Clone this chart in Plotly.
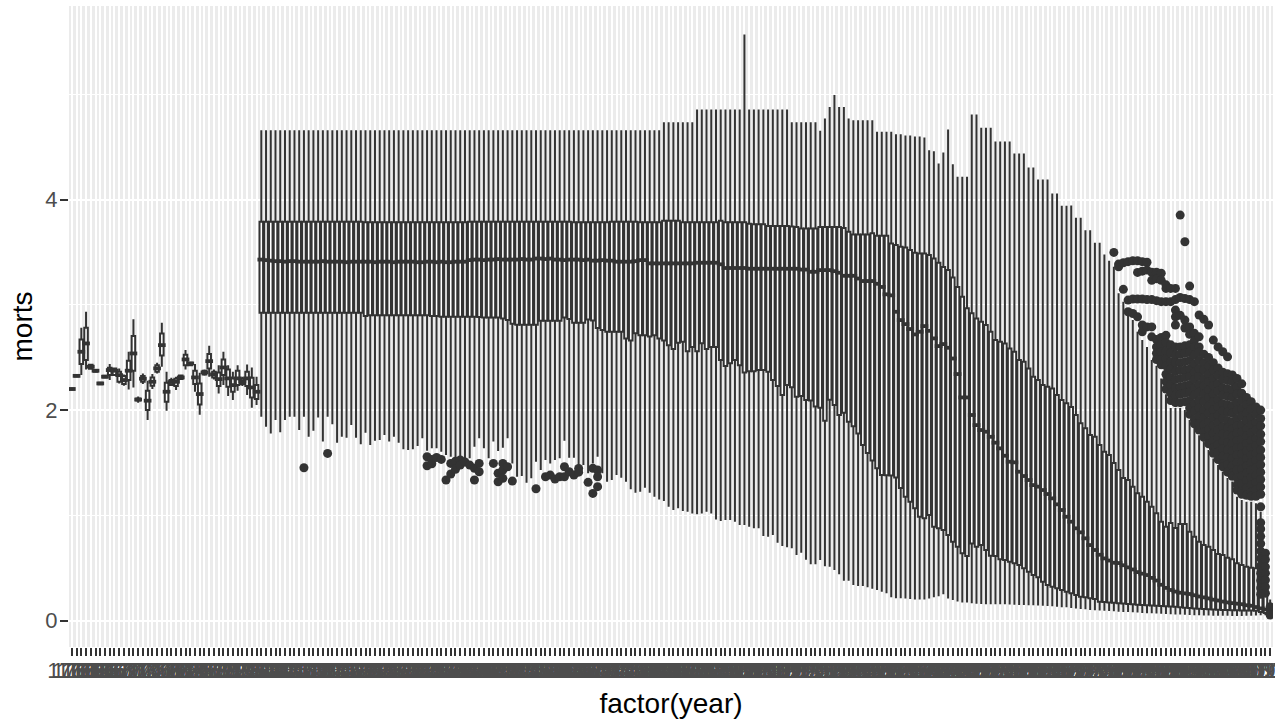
import plotly.graph_objects as go

years = [str(y) for y in range(1760, 2014)]

lower_fence = [
 2.19,2.315,2.332,2.386,2.386,2.36,2.24,2.30,2.285,2.323,
 2.253,2.231,2.196,2.215,2.07,2.247,1.905,2.199,2.348,2.412,
 1.994,2.228,2.19,2.285,2.386,2.418,2.174,1.956,2.326,2.317,
 2.291,2.158,2.237,2.133,2.095,2.184,2.228,2.142,2.022,2.047,
 1.936,1.842,1.778,1.905,1.788,1.905,1.936,1.936,1.81,1.936,
 1.746,1.804,1.93,1.70,1.936,1.864,1.69,1.746,1.737,1.858,
 1.737,1.674,1.785,1.667,1.708,1.715,1.763,1.70,1.746,1.69,
 1.627,1.62,1.627,1.658,1.731,1.613,1.636,1.636,1.604,1.572,
 1.556,1.541,1.556,1.541,1.541,1.651,1.731,1.636,1.541,1.70,
 1.61,1.641,1.731,1.493,1.366,1.373,1.31,1.351,1.509,1.43,
 1.525,1.493,1.525,1.541,1.708,1.547,1.547,1.461,1.477,1.399,
 1.493,1.556,1.40,1.319,1.335,1.382,1.357,1.319,1.247,1.214,
 1.224,1.262,1.214,1.176,1.151,1.135,1.081,1.05,1.066,1.04,
 1.034,1.018,1.009,1.018,1.034,1.018,0.961,0.945,0.955,0.955,
 0.939,0.907,0.907,0.891,0.876,0.876,0.803,0.796,0.812,0.739,
 0.708,0.695,0.686,0.622,0.644,0.578,0.534,0.534,0.575,0.515,
 0.511,0.48,0.439,0.378,0.378,0.337,0.328,0.328,0.315,0.302,
 0.29,0.274,0.258,0.22,0.211,0.211,0.21,0.205,0.20,0.20,
 0.20,0.21,0.22,0.23,0.25,0.21,0.195,0.18,0.17,0.17,
 0.165,0.16,0.158,0.155,0.155,0.155,0.155,0.155,0.152,0.15,
 0.148,0.147,0.146,0.145,0.143,0.14,0.138,0.135,0.13,0.127,
 0.125,0.12,0.115,0.11,0.106,0.10,0.098,0.095,0.092,0.09,
 0.087,0.084,0.082,0.08,0.078,0.075,0.072,0.07,0.068,0.066,
 0.064,0.062,0.06,0.058,0.056,0.054,0.052,0.05,0.05,0.048,
 0.047,0.046,0.045,0.044,0.044,0.043,0.043,0.043,0.044,0.045,
 0.048,0.05,0.05,0.05]

q1_values = [
 2.195,2.32,2.437,2.475,2.392,2.365,2.245,2.31,2.332,2.332,
 2.269,2.247,2.285,2.374,2.09,2.269,2.0,2.231,2.364,2.519,
 2.079,2.237,2.228,2.294,2.427,2.427,2.247,2.054,2.339,2.396,
 2.31,2.228,2.332,2.222,2.174,2.237,2.247,2.228,2.12,2.104,
 2.925,2.925,2.925,2.925,2.925,2.925,2.925,2.925,2.925,2.925,
 2.925,2.925,2.925,2.925,2.925,2.925,2.925,2.925,2.925,2.925,
 2.925,2.925,2.895,2.90,2.90,2.90,2.90,2.90,2.90,2.90,
 2.90,2.90,2.90,2.90,2.90,2.90,2.895,2.895,2.887,2.887,
 2.887,2.887,2.887,2.887,2.887,2.887,2.885,2.88,2.88,2.88,
 2.88,2.87,2.855,2.82,2.81,2.81,2.81,2.81,2.81,2.848,
 2.848,2.848,2.848,2.848,2.88,2.865,2.83,2.83,2.83,2.86,
 2.85,2.78,2.76,2.744,2.744,2.744,2.744,2.68,2.66,2.73,
 2.712,2.712,2.70,2.71,2.68,2.66,2.617,2.58,2.64,2.65,
 2.56,2.60,2.56,2.635,2.58,2.60,2.60,2.475,2.418,2.444,
 2.475,2.427,2.358,2.37,2.37,2.38,2.38,2.364,2.285,2.228,
 2.143,2.238,2.216,2.127,2.133,2.095,2.09,2.035,2.022,1.898,
 2.097,2.048,1.953,1.974,1.889,1.845,1.778,1.667,1.593,1.52,
 1.446,1.382,1.38,1.378,1.36,1.26,1.176,1.129,1.066,0.986,
 0.971,1.002,0.891,0.876,0.86,0.812,0.749,0.701,0.638,0.613,
 0.733,0.701,0.717,0.67,0.616,0.613,0.581,0.575,0.559,0.543,
 0.528,0.496,0.464,0.432,0.41,0.369,0.337,0.321,0.306,0.29,
 0.274,0.258,0.242,0.226,0.22,0.211,0.204,0.179,0.176,0.172,
 0.168,0.165,0.162,0.158,0.155,0.15,0.147,0.145,0.143,0.14,
 0.138,0.135,0.132,0.13,0.127,0.122,0.118,0.115,0.112,0.11,
 0.107,0.104,0.102,0.10,0.099,0.098,0.097,0.096,0.095,0.094,
 0.092,0.08,0.072,0.065]

median_values = [
 2.2,2.325,2.554,2.633,2.412,2.374,2.253,2.317,2.38,2.374,
 2.332,2.285,2.374,2.538,2.10,2.298,2.089,2.269,2.396,2.617,
 2.174,2.266,2.269,2.31,2.481,2.443,2.31,2.152,2.358,2.465,
 2.339,2.294,2.405,2.301,2.237,2.301,2.275,2.301,2.215,2.174,
 3.43,3.425,3.42,3.415,3.415,3.41,3.415,3.415,3.41,3.41,
 3.41,3.41,3.41,3.415,3.41,3.41,3.41,3.41,3.405,3.41,
 3.41,3.41,3.41,3.41,3.405,3.41,3.41,3.41,3.405,3.41,
 3.41,3.41,3.41,3.405,3.405,3.41,3.41,3.405,3.41,3.405,
 3.405,3.41,3.41,3.41,3.425,3.43,3.43,3.425,3.43,3.43,
 3.435,3.43,3.43,3.43,3.43,3.435,3.43,3.43,3.44,3.44,
 3.435,3.44,3.43,3.43,3.425,3.43,3.43,3.43,3.425,3.43,
 3.42,3.42,3.425,3.42,3.42,3.41,3.41,3.41,3.41,3.415,
 3.425,3.425,3.394,3.394,3.394,3.394,3.394,3.394,3.394,3.394,
 3.394,3.394,3.40,3.40,3.40,3.40,3.40,3.385,3.35,3.35,
 3.35,3.35,3.35,3.343,3.343,3.343,3.343,3.343,3.343,3.343,
 3.343,3.343,3.343,3.343,3.335,3.335,3.314,3.314,3.33,3.33,
 3.33,3.32,3.305,3.276,3.276,3.276,3.25,3.226,3.226,3.226,
 3.20,3.17,3.10,3.09,2.934,2.855,2.817,2.77,2.719,2.744,
 2.798,2.753,2.681,2.608,2.627,2.592,2.49,2.342,2.12,2.12,
 1.953,1.857,1.81,1.794,1.746,1.69,1.636,1.566,1.509,1.503,
 1.414,1.373,1.335,1.287,1.272,1.24,1.202,1.161,1.104,1.05,
 0.986,0.939,0.876,0.838,0.781,0.717,0.67,0.625,0.59,0.57,
 0.549,0.546,0.525,0.505,0.485,0.46,0.445,0.432,0.405,0.38,
 0.34,0.31,0.29,0.275,0.264,0.258,0.252,0.24,0.228,0.22,
 0.21,0.198,0.19,0.18,0.172,0.165,0.16,0.155,0.145,0.14,
 0.128,0.115,0.105,0.09]

q3_values = [
 2.205,2.33,2.671,2.782,2.43,2.38,2.26,2.325,2.402,2.396,
 2.364,2.323,2.469,2.703,2.11,2.323,2.184,2.31,2.427,2.728,
 2.26,2.285,2.298,2.329,2.526,2.45,2.374,2.253,2.374,2.532,
 2.364,2.358,2.481,2.386,2.301,2.374,2.301,2.364,2.307,2.237,
 3.79,3.79,3.79,3.79,3.79,3.79,3.79,3.79,3.79,3.79,
 3.79,3.79,3.79,3.79,3.79,3.79,3.79,3.79,3.79,3.79,
 3.79,3.79,3.785,3.785,3.785,3.785,3.785,3.785,3.785,3.785,
 3.785,3.785,3.785,3.785,3.785,3.785,3.785,3.785,3.785,3.785,
 3.785,3.785,3.785,3.785,3.79,3.79,3.79,3.79,3.79,3.79,
 3.79,3.79,3.79,3.79,3.79,3.79,3.79,3.79,3.79,3.79,
 3.79,3.79,3.79,3.79,3.79,3.79,3.785,3.785,3.785,3.785,
 3.785,3.785,3.785,3.785,3.79,3.79,3.79,3.79,3.79,3.79,
 3.785,3.785,3.785,3.785,3.785,3.80,3.80,3.80,3.80,3.785,
 3.785,3.785,3.785,3.785,3.785,3.785,3.785,3.80,3.785,3.785,
 3.785,3.785,3.785,3.77,3.767,3.767,3.767,3.75,3.75,3.75,
 3.75,3.75,3.745,3.74,3.726,3.726,3.726,3.726,3.74,3.74,
 3.74,3.74,3.74,3.73,3.694,3.669,3.669,3.669,3.669,3.68,
 3.656,3.656,3.656,3.584,3.568,3.552,3.545,3.52,3.495,3.489,
 3.489,3.473,3.44,3.40,3.36,3.33,3.26,3.17,3.077,2.967,
 2.92,2.87,2.84,2.808,2.744,2.665,2.649,2.633,2.586,2.554,
 2.475,2.46,2.396,2.317,2.285,2.238,2.222,2.206,2.143,2.095,
 2.064,2.03,1.953,1.874,1.826,1.763,1.746,1.667,1.604,1.572,
 1.496,1.43,1.354,1.335,1.272,1.21,1.176,1.129,1.081,1.02,
 0.939,0.891,0.926,0.879,0.917,0.917,0.844,0.796,0.749,0.717,
 0.701,0.67,0.632,0.622,0.597,0.581,0.543,0.527,0.511,0.502,
 0.496,0.45,0.35,0.14]

upper_fence = [
 2.21,2.335,2.782,2.934,2.44,2.39,2.27,2.335,2.437,2.405,
 2.396,2.339,2.554,2.864,2.13,2.348,2.279,2.342,2.45,2.83,
 2.364,2.307,2.317,2.339,2.57,2.456,2.437,2.355,2.386,2.611,
 2.386,2.427,2.554,2.427,2.364,2.427,2.317,2.434,2.405,2.317,
 4.66,4.66,4.66,4.66,4.66,4.66,4.66,4.66,4.66,4.66,
 4.66,4.66,4.66,4.66,4.66,4.66,4.66,4.66,4.66,4.66,
 4.66,4.66,4.66,4.66,4.66,4.66,4.66,4.66,4.66,4.66,
 4.66,4.66,4.66,4.66,4.66,4.66,4.66,4.66,4.66,4.66,
 4.66,4.66,4.66,4.66,4.66,4.66,4.66,4.66,4.66,4.66,
 4.66,4.66,4.66,4.66,4.66,4.66,4.66,4.66,4.66,4.66,
 4.66,4.66,4.66,4.66,4.66,4.66,4.66,4.66,4.66,4.66,
 4.66,4.66,4.66,4.66,4.66,4.66,4.66,4.66,4.66,4.66,
 4.66,4.66,4.66,4.66,4.66,4.736,4.736,4.736,4.736,4.736,
 4.736,4.736,4.857,4.857,4.857,4.857,4.857,4.857,4.857,4.857,
 4.857,4.857,5.57,4.857,4.857,4.857,4.857,4.857,4.857,4.857,
 4.857,4.857,4.736,4.736,4.736,4.736,4.736,4.736,4.655,4.77,
 4.88,4.993,4.88,4.88,4.77,4.755,4.755,4.755,4.755,4.755,
 4.645,4.645,4.645,4.645,4.62,4.62,4.61,4.61,4.60,4.60,
 4.59,4.47,4.46,4.344,4.448,4.667,4.337,4.217,4.217,4.217,
 4.81,4.81,4.683,4.683,4.683,4.553,4.553,4.553,4.553,4.439,
 4.439,4.439,4.306,4.306,4.192,4.192,4.192,4.059,4.059,3.941,
 3.941,3.945,3.827,3.827,3.71,3.71,3.59,3.59,3.479,3.42,
 3.362,3.11,3.03,2.92,2.855,2.745,2.665,2.60,2.475,2.42,
 2.3,2.15,2.02,2.02,2.02,2.0,1.905,1.83,1.76,1.70,
 1.62,1.54,1.477,1.414,1.354,1.32,1.176,1.145,1.129,1.129,
 1.115,1.034,0.6,0.2]

outlier_groups = [
 (49,[1.452]),(54,[1.588]),(75,[1.556,1.471]),(76,[1.531,1.49]),(77,[1.55]),(78,[1.531]),
 (79,[1.335]),(80,[1.392,1.493]),(81,[1.514,1.437]),(82,[1.525,1.477]),(83,[1.506]),
 (84,[1.477]),(85,[1.335,1.446]),(86,[1.493,1.414]),(89,[1.493]),(90,[1.399,1.319]),
 (91,[1.493,1.43,1.351]),(92,[1.461]),(93,[1.325]),(98,[1.252]),(100,[1.366]),(101,[1.382]),
 (102,[1.344]),(103,[1.366]),(104,[1.461,1.366]),(105,[1.414]),(106,[1.382]),(107,[1.445,1.41]),
 (109,[1.313]),(110,[1.446,1.208]),(111,[1.43,1.272,1.366]),
 (220,[3.498]),(221,[3.387,3.362]),(222,[3.40,3.147]),(223,[3.41,3.045,2.934]),
 (224,[3.419,3.055,2.918]),(225,[3.419,3.308,3.055,2.886]),(226,[3.41,3.32,3.055,2.808,2.744]),
 (227,[3.405,3.33,3.05,2.79]),(228,[3.31,3.233,3.05,2.79,2.696]),
 (229,[3.31,3.247,3.04,2.67,2.60,2.54,2.48]),
 (230,[3.30,3.233,3.03,2.69,2.62,2.55,2.48,2.43]),
 (231,[3.19,3.156,3.03,2.71,2.64,2.56,2.49,2.42,2.34,2.27,2.20]),
 (232,[3.156,3.03,2.62,2.54,2.46,2.39,2.31,2.24,2.16,2.09]),
 (233,[3.156,3.05,2.95,2.886,2.808,2.60,2.52,2.45,2.37,2.29,2.21,2.14,2.07]),
 (234,[3.853,3.07,2.90,2.60,2.53,2.45,2.38,2.30,2.22,2.15,2.07]),
 (235,[3.60,3.06,2.855,2.78,2.61,2.54,2.46,2.38,2.31,2.23,2.16,2.08]),
 (236,[3.178,3.05,2.79,2.72,2.62,2.55,2.47,2.39,2.32,2.24,2.17,2.09,2.02,1.96]),
 (237,[3.03,2.729,2.66,2.60,2.52,2.44,2.36,2.29,2.21,2.14,2.06,1.99,1.91,1.87]),
 (238,[2.903,2.696,2.60,2.55,2.47,2.39,2.32,2.24,2.17,2.09,2.02,1.94,1.87,1.81]),
 (239,[2.862,2.53,2.45,2.38,2.30,2.23,2.15,2.08,2.00,1.93,1.86,1.79,1.74]),
 (240,[2.808,2.50,2.42,2.34,2.27,2.19,2.12,2.04,1.97,1.89,1.82,1.75,1.68]),
 (241,[2.665,2.45,2.38,2.30,2.23,2.15,2.08,2.00,1.93,1.85,1.78,1.71,1.64,1.59]),
 (242,[2.60,2.40,2.33,2.25,2.18,2.10,2.03,1.95,1.88,1.81,1.74,1.67,1.60,1.53]),
 (243,[2.554,2.36,2.29,2.21,2.14,2.06,1.99,1.92,1.84,1.77,1.70,1.63,1.56,1.49,1.46]),
 (244,[2.506,2.344,2.28,2.20,2.13,2.05,1.98,1.90,1.83,1.76,1.69,1.62,1.55,1.48,1.41]),
 (245,[2.333,2.27,2.19,2.12,2.04,1.97,1.89,1.82,1.75,1.68,1.61,1.54,1.47,1.40,1.37]),
 (246,[2.30,2.22,2.15,2.07,2.00,1.92,1.85,1.78,1.71,1.64,1.57,1.50,1.43,1.36,1.29,1.24]),
 (247,[2.249,2.16,2.09,2.01,1.94,1.86,1.79,1.72,1.65,1.58,1.51,1.44,1.37,1.30,1.23,1.20]),
 (248,[2.12,2.05,1.97,1.90,1.82,1.75,1.68,1.61,1.54,1.47,1.40,1.33,1.26,1.19]),
 (249,[2.08,2.01,1.93,1.86,1.78,1.71,1.64,1.57,1.50,1.43,1.36,1.29,1.22,1.18]),
 (250,[2.03,1.96,1.88,1.81,1.73,1.66,1.59,1.52,1.45,1.38,1.31,1.24,1.18]),
 (251,[2.0,1.92,1.85,1.77,1.70,1.62,1.55,1.48,1.41,1.34,1.27,1.20,1.08,0.93,0.87,0.80,0.73,0.66,0.59,0.52,0.45,0.38,0.31,0.25]),
 (252,[0.64,0.58,0.51,0.45,0.385,0.32,0.26]),
 (253,[0.131,0.052]),
]

for name, arr in [("lower", lower_fence), ("q1", q1_values), ("median", median_values),
                  ("q3", q3_values), ("upper", upper_fence)]:
    assert len(arr) == len(years), f"{name} {len(arr)}"

outlier_x, outlier_y = [], []
for col, vals in outlier_groups:
    for v in vals:
        outlier_x.append(years[col])
        outlier_y.append(v)

DARK = "#333333"
FONT = "Liberation Sans"

fig = go.Figure()
fig.add_trace(go.Box(
    x=years, q1=q1_values, median=median_values, q3=q3_values,
    lowerfence=lower_fence, upperfence=upper_fence,
    width=0.75, whiskerwidth=0, boxpoints=False,
    fillcolor="white", line=dict(color=DARK, width=2), hoverinfo="skip",
))
fig.add_trace(go.Scatter(
    x=years, y=median_values, mode="markers", hoverinfo="skip",
    marker=dict(symbol="line-ew", size=5.5, color=DARK, line=dict(color=DARK, width=3.8)),
))
fig.add_trace(go.Scatter(
    x=outlier_x, y=outlier_y, mode="markers", hoverinfo="skip",
    marker=dict(symbol="circle", size=9, color=DARK),
))

fig.update_layout(
    width=1275, height=719, autosize=False, showlegend=False,
    margin=dict(l=69, r=2.3, t=6, b=72, pad=0),
    paper_bgcolor="white", plot_bgcolor="#EBEBEB",
    font=dict(family=FONT, color="black"),
    xaxis=dict(
        automargin=False,
        type="category", categoryorder="array", categoryarray=years,
        range=[-0.6, 253.6], tickmode="linear", tick0=0, dtick=1, tickangle=0,
        showgrid=True, gridcolor="white", gridwidth=2.4, zeroline=False, showline=False,
        ticks="outside", ticklen=8, tickwidth=2, tickcolor=DARK, ticklabelstandoff=-4,
        tickfont=dict(family=FONT, size=22, color="#4D4D4D"),
        title=dict(text="factor(year)", font=dict(family=FONT, size=28, color="black")),
    ),
    yaxis=dict(
        automargin=True,
        range=[-0.2518, 5.84], tickmode="array", tickvals=[0, 2, 4], ticktext=["0", "2", "4"],
        showgrid=True, gridcolor="white", gridwidth=2, zeroline=False, showline=False,
        ticks="outside", ticklen=8, tickwidth=2, tickcolor=DARK, ticklabelstandoff=-2,
        tickfont=dict(family=FONT, size=22, color="#4D4D4D"),
        minor=dict(tickvals=[1, 3, 5], showgrid=True, gridcolor="white", gridwidth=1, ticklen=0),
        title=dict(text="morts", font=dict(family=FONT, size=28, color="black"), standoff=4),
    ),
)

fig.write_html("out.html", config={"displayModeBar": False},
               post_script="document.body.style.margin='0';document.documentElement.style.overflow='hidden';")
